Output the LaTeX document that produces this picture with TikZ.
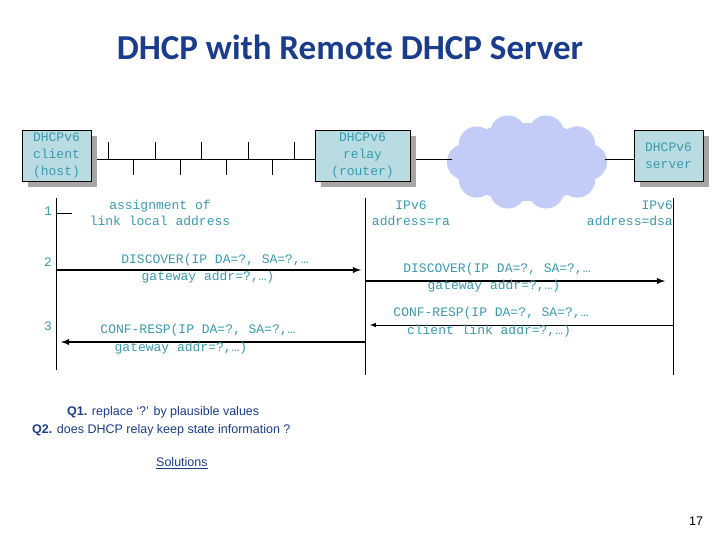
\documentclass[tikz,border=0pt]{standalone}
\usepackage{fontspec}
\setmainfont{Liberation Sans}
\newfontfamily\mono{Liberation Mono}
\newfontfamily\titlefont{Carlito}
\usetikzlibrary{shapes.geometric}
\definecolor{teal}{HTML}{3A9AAE}
\definecolor{boxfill}{HTML}{B8DCE2}
\definecolor{cloud}{HTML}{C2CCF6}
\definecolor{titleblue}{HTML}{1A3C8C}
\begin{document}
\begin{tikzpicture}[x=1pt,y=-1pt,
  box/.style={draw,fill=boxfill,minimum width=#1,minimum height=51pt,align=center,inner sep=0pt,font=\mono\fontsize{13}{17}\selectfont\color{teal},
    preaction={fill=gray!70,transform canvas={xshift=6pt,yshift=-6pt}}},
  lbl/.style={font=\mono\fontsize{13}{16}\selectfont,text=teal,align=center,inner sep=0pt},
  msg/.style={line width=1.8pt,-latex},
  life/.style={line width=0.8pt}]
\useasboundingbox (0,0) rectangle (720,540);
\node[font=\titlefont\bfseries\fontsize{35}{40}\selectfont,text=titleblue] (title) at (350,47) {DHCP with Remote DHCP Server};
\node[ellipse,fill=cloud,minimum width=150pt,minimum height=78pt] (cl) at (527,162) {};
\foreach \a in {0,36,72,108,144,180,216,252,288,324}
  \fill[cloud] (cl.center) ++(\a:62 and 30) circle (18pt);
\draw (91,159) -- (315,159);
\draw (410,159) -- (452,159);
\draw (605,159) -- (634,159);
\foreach \x in {108,155,201,248,294} \draw (\x,142) -- (\x,159);
\foreach \x in {133,180,226,272} \draw (\x,159) -- (\x,175);
\node[box=69pt] (client) at (56.5,155.5) {DHCPv6\\client\\(host)};
\node[box=95pt] (relay) at (362.5,155.5) {DHCPv6\\relay\\(router)};
\node[box=69pt] (server) at (668.5,155.5) {DHCPv6\\server};
\coordinate (c0) at (56,198); \coordinate (c1) at (56,370);
\coordinate (r0) at (365,198); \coordinate (r1) at (365,375);
\coordinate (s0) at (673,198); \coordinate (s1) at (673,375);
\draw[life] (c0) -- (c1); \draw[life] (r0) -- (r1); \draw[life] (s0) -- (s1);
\node[lbl] (n1) at (48,211) {1};
\draw (56,213) -- (72,213);
\node[lbl] (t1) at (160,213) {assignment of\\link local address};
\node[lbl] (ra) at (411,213) {IPv6\\address=ra};
\node[lbl,align=right,anchor=east] (dsa) at (673,213) {IPv6\\address=dsa};
\node[lbl] (n2) at (48,262) {2};
\coordinate (a1) at (56,270); \coordinate (a2) at (361,270);
\draw[msg] (a1) -- (a2);
\node[lbl] (t2a) at (215,260) {DISCOVER(IP DA=?, SA=?,…};
\node[lbl] (t2b) at (208,277) {gateway addr=?,…)};
\coordinate (b1) at (365,281); \coordinate (b2) at (665,281);
\draw[msg] (b1) -- (b2);
\node[lbl] (t3a) at (497,269) {DISCOVER(IP DA=?, SA=?,…};
\node[lbl] (t3b) at (494,286) {gateway addr=?,…)};
\coordinate (d1) at (673,325); \coordinate (d2) at (370,325);
\draw[line width=1pt,-latex] (d1) -- (d2);
\node[lbl] (t4a) at (491,313) {CONF-RESP(IP DA=?, SA=?,…};
\node[lbl] (t4b) at (489,331) {client link addr=?,…)};
\node[lbl] (n3) at (48,326) {3};
\coordinate (e1) at (365,342); \coordinate (e2) at (61,342);
\draw[msg] (e1) -- (e2);
\node[lbl] (t5a) at (198,330) {CONF-RESP(IP DA=?, SA=?,…};
\node[lbl] (t5b) at (181,348) {gateway addr=?,…)};
\node[anchor=west,inner sep=0pt,font=\fontsize{12.5}{14}\selectfont,text=titleblue] (q1) at (67,412) {\textbf{Q1.} replace ‘?’ by plausible values};
\node[anchor=west,inner sep=0pt,font=\fontsize{12.5}{14}\selectfont,text=titleblue] (q2) at (32,430) {\textbf{Q2.} does DHCP relay keep state information ?};
\node[anchor=west,inner sep=0pt,font=\fontsize{12.5}{14}\selectfont,text=titleblue] (sol) at (156,463) {\underline{Solutions}};
\node[font=\fontsize{12.5}{14}\selectfont] (pg) at (696,521) {17};
\end{tikzpicture}
\end{document}
